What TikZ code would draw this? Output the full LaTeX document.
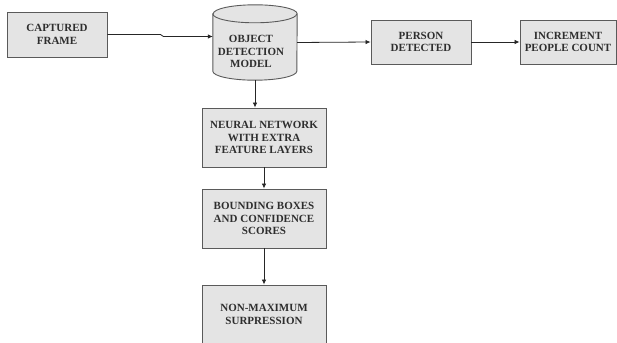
\documentclass[tikz,border=0pt]{standalone}
\usepackage{fontspec}
\setmainfont{Liberation Serif}
\usetikzlibrary{arrows.meta,calc}
\definecolor{boxfill}{HTML}{E4E4E4}
\definecolor{boxline}{HTML}{5A5A5A}
\definecolor{txt}{HTML}{2E2E2E}
\begin{document}
\begin{tikzpicture}[x=1pt,y=1pt,
  stepbox/.style={draw=boxline,fill=boxfill,line width=0.9pt,minimum width=#1,align=center,
    text=txt,font=\fontsize{11}{12.3}\selectfont\bfseries,inner sep=0pt},
  arr/.style={draw=black!85,line width=0.8pt,-{Latex[length=5pt,width=4.5pt]}}]
\clip (0,0) rectangle (617,-342);
\useasboundingbox (0,0) rectangle (617,-342);
\fill[white] (0,0) rectangle (617,-342);
% nodes
\node[stepbox=100pt,minimum height=45pt] (cap) at (57,-34.5) {CAPTURED\\FRAME};
\node[stepbox=100pt,minimum height=44pt] (person) at (421,-42) {PERSON\\DETECTED};
\node[stepbox=96pt,minimum height=44pt] (incr) at (568,-42) {INCREMENT\\PEOPLE COUNT};
\node[stepbox=124pt,minimum height=59pt] (neural) at (264,-137.5) {NEURAL NETWORK\\WITH EXTRA\\FEATURE LAYERS};
\node[stepbox=124pt,minimum height=59pt] (bbox) at (264,-218.5) {BOUNDING BOXES\\AND CONFIDENCE\\SCORES};
\node[stepbox=124pt,minimum height=59pt] (nms) at (264,-314.5) {NON-MAXIMUM\\SURPRESSION};
% cylinder
\node[minimum width=84pt,minimum height=75pt,inner sep=0pt] (cyl) at (255,-42.5) {};
\path[draw=boxline,fill=boxfill,line width=0.9pt]
  ($(cyl.north west)+(0,-9)$) -- ($(cyl.south west)+(0,9)$)
  arc[start angle=180,end angle=360,x radius=42pt,y radius=9pt]
  -- ($(cyl.north east)+(0,-9)$)
  arc[start angle=0,end angle=180,x radius=42pt,y radius=9pt] -- cycle;
\draw[boxline,line width=0.9pt] ($(cyl.north west)+(0,-9)$)
  arc[start angle=180,end angle=360,x radius=42pt,y radius=9pt];
\node[text=txt,font=\fontsize{11}{12.3}\selectfont\bfseries,align=center] (cyltext) at (251,-51.5) {OBJECT\\DETECTION\\MODEL};
% connectors
\draw[arr] (cap.east) -- ++(53,0) -- ++(3,-2) -- ([yshift=-2pt]cap.east -| cyl.west);
\draw[arr] (cyl.east) -- (person.west);
\draw[arr] (person.east) -- (incr.west);
\draw[arr] (cyl.south) -- (cyl.south |- neural.north);
\draw[arr] (neural.south) -- (bbox.north);
\draw[arr] (bbox.south) -- (nms.north);
\end{tikzpicture}
\end{document}
